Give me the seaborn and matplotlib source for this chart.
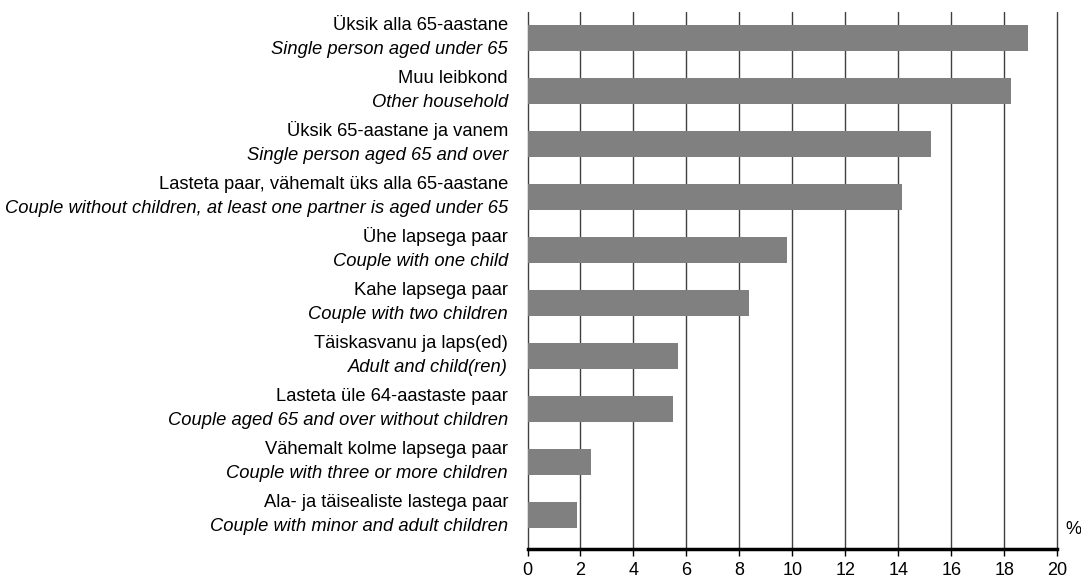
import matplotlib
matplotlib.use("Agg")
import matplotlib.pyplot as plt
import seaborn as sns
import pandas as pd

# household type labels (Estonian / English) and share in %
labels_et = ["Üksik alla 65-aastane", "Muu leibkond", "Üksik 65-aastane ja vanem",
             "Lasteta paar, vähemalt üks alla 65-aastane", "Ühe lapsega paar",
             "Kahe lapsega paar", "Täiskasvanu ja laps(ed)",
             "Lasteta üle 64-aastaste paar", "Vähemalt kolme lapsega paar",
             "Ala- ja täisealiste lastega paar"]
labels_en = ["Single person aged under 65", "Other household",
             "Single person aged 65 and over",
             "Couple without children, at least one partner is aged under 65",
             "Couple with one child", "Couple with two children",
             "Adult and child(ren)", "Couple aged 65 and over without children",
             "Couple with three or more children",
             "Couple with minor and adult children"]
values = [18.9, 18.25, 15.25, 14.15, 9.8, 8.35, 5.7, 5.5, 2.4, 1.85]

df = pd.DataFrame({"label": labels_et, "value": values})

sns.set_style("white")
plt.rcParams["font.family"] = ["Liberation Sans", "DejaVu Sans"]
plt.rcParams["text.color"] = "black"
plt.rcParams["xtick.color"] = "black"

fig = plt.figure(figsize=(10.81, 5.78), dpi=100)
ax = fig.add_axes([0.488, 0.05, 0.49, 0.929])

sns.barplot(data=df, x="value", y="label", color="#808080", saturation=1,
            width=0.5, linewidth=0, ax=ax, zorder=3)

ax.set_xlim(0, 20)
ax.set_ylim(9.64, -0.49)
ax.set_xticks(range(0, 21, 2))
ax.set_xlabel("")
ax.set_ylabel("")
ax.set_yticks([])

# vertical grid lines every 2 %
for x in range(0, 21, 2):
    ax.axvline(x, color="#404040", lw=1, zorder=1, clip_on=False)

for s in ["top", "right", "left"]:
    ax.spines[s].set_visible(False)
ax.spines["bottom"].set_linewidth(2.5)
ax.spines["bottom"].set_color("black")
ax.spines["bottom"].set_zorder(4)
ax.tick_params(axis="x", direction="out", length=5, width=1, color="black",
               labelsize=13, pad=4, bottom=True)

# two-line category labels: Estonian regular, English italic
for i, (et, en) in enumerate(zip(labels_et, labels_en)):
    ax.annotate(et, xy=(0, i), xycoords=("axes fraction", "data"),
                xytext=(-14, 6.2), textcoords="offset points",
                ha="right", va="baseline", fontsize=13.2)
    ax.annotate(en, xy=(0, i), xycoords=("axes fraction", "data"),
                xytext=(-14, -11.2), textcoords="offset points",
                ha="right", va="baseline", fontsize=13.2, style="italic")

ax.annotate("%", xy=(1, 0), xycoords="axes fraction", xytext=(6, 8),
            textcoords="offset points", ha="left", va="bottom", fontsize=13)

fig.savefig("out.png", dpi=100)
